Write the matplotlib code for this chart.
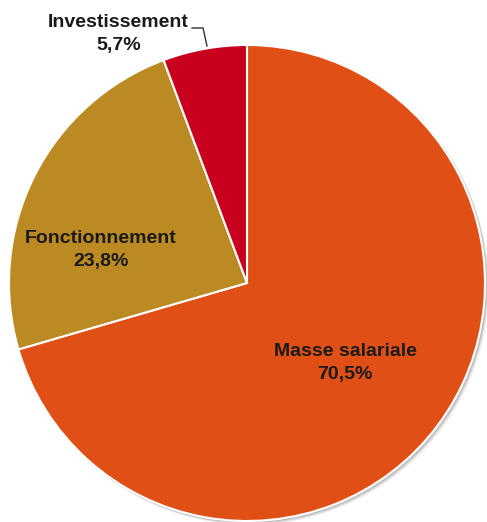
import matplotlib
matplotlib.use("Agg")
import matplotlib.pyplot as plt
from matplotlib.patches import Circle

labels = ["Masse salariale", "Fonctionnement", "Investissement"]
values = [70.5, 23.8, 5.7]
pct_text = ["70,5%", "23,8%", "5,7%"]
colors = ["#E04F16", "#BC8A22", "#C8001E"]

W, H = 487, 522
fig = plt.figure(figsize=(W/100, H/100), dpi=100)
ax = fig.add_axes([0, 0, 1, 1])

cx, cy, r = 247, H - 283, 238
# soft shadow
for off, a in [(3.5, 0.12), (2.5, 0.2), (1.5, 0.3)]:
    ax.add_patch(Circle((cx + off, cy - off), r + 0.5, color="#808080", alpha=a, lw=0, zorder=0))

wedges, _ = ax.pie(values, colors=colors, startangle=90, counterclock=False,
                   center=(cx, cy), radius=r, frame=True,
                   wedgeprops=dict(edgecolor="white", linewidth=1.5))
ax.set_xlim(0, W)
ax.set_ylim(0, H)
ax.set_aspect("equal")
ax.axis("off")

font = dict(family="Liberation Sans", weight="bold", fontsize=14, color="#1a1a1a",
            ha="center", va="center", linespacing=1.4)
ax.text(345, H - 363, f"{labels[0]}\n{pct_text[0]}", **font)
ax.text(101, H - 250, f"{labels[1]}\n{pct_text[1]}", **font)
ax.text(118.5, H - 34, f"{labels[2]}\n{pct_text[2]}", **font)
# leader line
ax.plot([192, 203, 207], [H - 28, H - 28, H - 46], color="#333333", lw=1, zorder=5)

fig.savefig("out.png", dpi=100)
